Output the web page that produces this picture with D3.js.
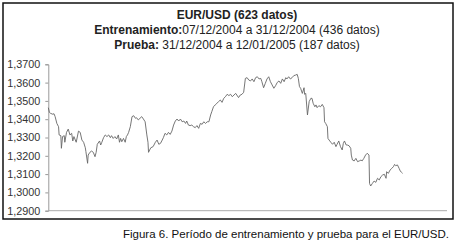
<!DOCTYPE html>
<html>
<head>
<meta charset="utf-8">
<script src="https://cdn.jsdelivr.net/npm/d3@7"></script>
<style>
  body { margin: 0; background: #fff; }
  svg { display: block; }
</style>
</head>
<body>
<div class="display"></div>
<script>
// EUR/USD series, values (sample index, rate)
var idx = [0,2,4,8,10,12,15,18,19,22,23,25,28,29,32,35,38,41,43,45,49,53,56,59,62,65,66,69,70,73,76,79,82,84,86,90,92,94,97,100,103,106,109,111,114,117,120,123,125,127,129,132,135,137,139,141,144,147,150,153,155,158,161,164,167,170,173,175,176,178,180,184,188,191,194,
  197,200,202,205,208,211,214,217,220,223,226,229,232,235,238,241,243,246,249,252,255,258,261,264,267,270,273,276,279,282,285,287,290,293,296,299,302,305,308,311,314,317,320,323,326,329,331,334,337,340,343,346,349,352,355,358,361,364,367,370,373,375,378,381,384,387,390,393,396,399,402,405,408,411,414,417,419,422,425,428,431,434,437,439,441,443,446,449,450,452,455,458,461,
  463,465,468,470,472,475,478,481,484,485,487,490,491,493,496,499,502,505,507,510,513,516,518,520,523,525,528,531,532,534,537,540,543,546,549,551,554,557,560,563,564,566,569,572,575,578,581,584,587,590,593,594,597,600,603,606,608,610,613,616,618,620,622];
var rate = [1.3463,1.3437,1.3432,1.3427,1.3430,1.3414,1.3377,1.3359,1.3314,1.3310,1.3241,1.3305,1.3310,1.3274,1.3328,1.3346,1.3314,1.3323,1.3281,1.3305,1.3274,1.3335,1.3328,1.3286,1.3274,1.3244,1.3223,1.3159,1.3204,1.3219,1.3226,1.3219,1.3195,1.3219,1.3263,1.3281,1.3259,1.3274,1.3299,1.3314,1.3305,1.3314,1.3299,1.3310,1.3295,1.3305,1.3292,1.3314,1.3274,1.3295,1.3277,1.3295,1.3274,1.3305,1.3314,1.3328,1.3359,1.3414,1.3419,1.3405,1.3408,1.3396,1.3405,1.3414,1.3401,1.3386,1.3314,1.3274,1.3219,1.3232,1.3244,1.3250,1.3274,1.3286,1.3263,
  1.3268,1.3286,1.3299,1.3323,1.3314,1.3328,1.3317,1.3335,1.3368,1.3390,1.3401,1.3390,1.3401,1.3386,1.3390,1.3377,1.3390,1.3368,1.3365,1.3368,1.3359,1.3354,1.3365,1.3350,1.3377,1.3372,1.3386,1.3377,1.3386,1.3386,1.3423,1.3441,1.3468,1.3478,1.3487,1.3496,1.3505,1.3492,1.3514,1.3523,1.3536,1.3529,1.3536,1.3523,1.3532,1.3541,1.3532,1.3518,1.3532,1.3536,1.3547,1.3623,1.3627,1.3614,1.3609,1.3620,1.3605,1.3627,1.3632,1.3620,1.3623,1.3605,1.3572,1.3596,1.3620,1.3632,1.3605,1.3587,1.3569,1.3583,1.3601,1.3609,1.3596,1.3620,1.3605,1.3627,1.3620,1.3632,1.3620,1.3627,1.3638,1.3641,1.3645,1.3623,1.3578,1.3569,1.3541,1.3572,1.3536,1.3541,1.3423,1.3496,1.3514,
  1.3514,1.3487,1.3468,1.3478,1.3463,1.3474,1.3468,1.3481,1.3463,1.3386,1.3377,1.3359,1.3295,1.3286,1.3274,1.3263,1.3274,1.3250,1.3263,1.3281,1.3250,1.3232,1.3268,1.3281,1.3259,1.3259,1.3255,1.3241,1.3204,1.3177,1.3172,1.3186,1.3168,1.3172,1.3177,1.3172,1.3186,1.3204,1.3214,1.3204,1.3049,1.3035,1.3049,1.3062,1.3055,1.3077,1.3068,1.3086,1.3095,1.3099,1.3077,1.3113,1.3104,1.3122,1.3131,1.3141,1.3153,1.3146,1.3150,1.3131,1.3117,1.3110,1.3104];
var yTicks = [1.29,1.30,1.31,1.32,1.33,1.34,1.35,1.36,1.37];
var titleLines = [
  [{t: "EUR/USD (623 datos)", b: true}],
  [{t: "Entrenamiento:", b: true}, {t: "07/12/2004 a 31/12/2004 (436 datos)", b: false}],
  [{t: "Prueba:", b: true}, {t: " 31/12/2004 a 12/01/2005 (187 datos)", b: false}]
];
var caption = "Figura 6. Período de entrenamiento y prueba para el EUR/USD.";

var svg = d3.select(".display")
  .append("svg")
  .attr("width", 456)
  .attr("height", 244)
  .style("font-family", "Arial, 'Liberation Sans', sans-serif");

// outer frame
svg.append("rect")
  .attr("x", 3).attr("y", 3)
  .attr("width", 450).attr("height", 216)
  .attr("fill", "#fff")
  .attr("stroke", "#111")
  .attr("stroke-width", 1.5);

var x = d3.scaleLinear().domain([0, 700]).range([48.3, 447]);
var y = d3.scaleLinear().domain([1.29, 1.37]).range([210.7, 64.3]);

// title
var title = svg.append("text")
  .attr("text-anchor", "middle")
  .attr("fill", "#222")
  .style("font-size", "12px");
titleLines.forEach(function(line, i) {
  line.forEach(function(part, j) {
    var ts = title.append("tspan").text(part.t)
      .style("font-weight", part.b ? "bold" : "normal");
    if (j === 0) ts.attr("x", 237).attr("y", 19 + i * 15);
  });
});

// y axis
var yAxis = svg.append("g")
  .attr("transform", "translate(48.3,0)")
  .call(d3.axisLeft(y).tickValues(yTicks).tickSize(3).tickPadding(5)
    .tickFormat(function(d) { return d3.format(".4f")(d).replace(".", ","); }));
yAxis.select(".domain").attr("stroke", "#999");
yAxis.selectAll(".tick line").attr("stroke", "#999");
yAxis.selectAll("text")
  .attr("fill", "#333")
  .style("font-size", "10.8px")
  .style("font-family", "Arial, 'Liberation Sans', sans-serif");

// x axis line
svg.append("line")
  .attr("x1", x(0)).attr("x2", x(700))
  .attr("y1", y(1.29)).attr("y2", y(1.29))
  .attr("stroke", "#aaa");

// series
var line = d3.line()
  .x(function(d, i) { return x(idx[i]); })
  .y(function(d) { return y(d); });

svg.append("path")
  .datum(rate)
  .attr("d", line)
  .attr("fill", "none")
  .attr("stroke", "#666")
  .attr("stroke-width", 0.9);

// caption
svg.append("text")
  .attr("x", 449).attr("y", 238)
  .attr("text-anchor", "end")
  .attr("fill", "#111")
  .style("font-size", "11.5px")
  .style("font-family", "Arial, 'Liberation Sans', sans-serif")
  .text(caption);
</script>
</body>
</html>
